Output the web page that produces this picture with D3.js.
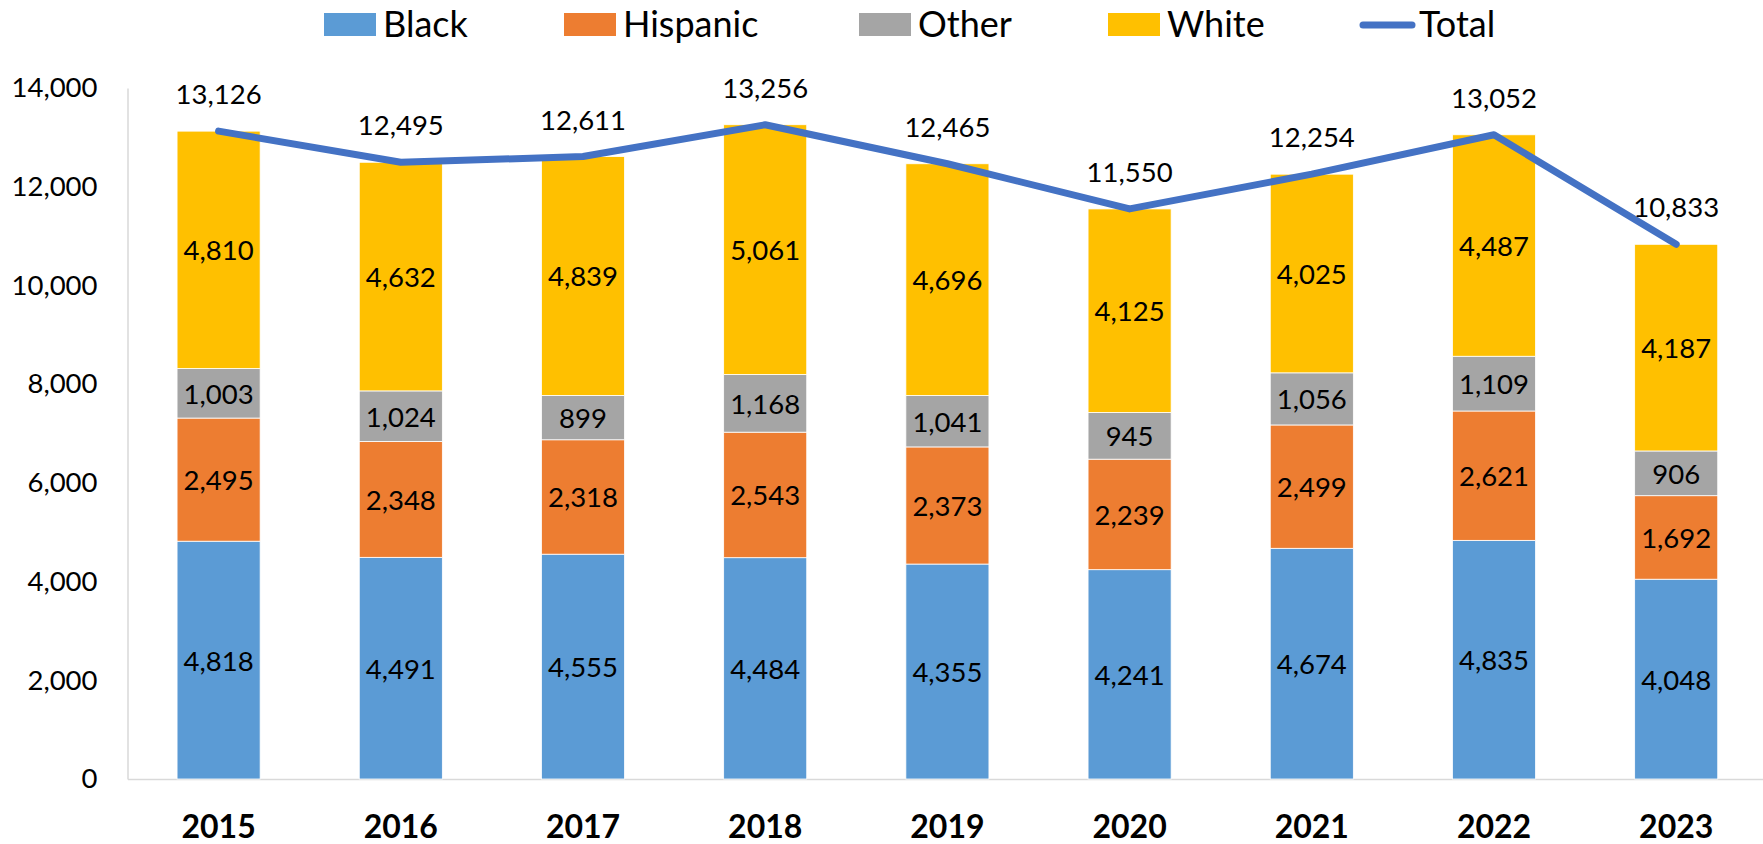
<!DOCTYPE html>
<html>
<head>
<meta charset="utf-8">
<script src="https://cdn.jsdelivr.net/npm/d3@7"></script>
<style>
  html, body { margin: 0; padding: 0; background: #fff; }
  svg { display: block; font-family: Lato, "Open Sans", sans-serif; }
</style>
</head>
<body>
<svg id="chart" width="1763" height="844"></svg>
<script>
// ---- data ----
const years = ["2015", "2016", "2017", "2018", "2019", "2020", "2021", "2022", "2023"];
const seriesNames = ["Black", "Hispanic", "Other", "White"];
const black    = [4818, 4491, 4555, 4484, 4355, 4241, 4674, 4835, 4048];
const hispanic = [2495, 2348, 2318, 2543, 2373, 2239, 2499, 2621, 1692];
const other    = [1003, 1024, 899, 1168, 1041, 945, 1056, 1109, 906];
const white    = [4810, 4632, 4839, 5061, 4696, 4125, 4025, 4487, 4187];
const total    = [13126, 12495, 12611, 13256, 12465, 11550, 12254, 13052, 10833];
const yTicks   = [0, 2000, 4000, 6000, 8000, 10000, 12000, 14000];

// ---- styles / layout ----
const colors = { Black: "#5B9BD5", Hispanic: "#ED7D31", Other: "#A5A5A5", White: "#FFC000", Total: "#4472C4" };
const plotLeft = 127.5, plotRight = 1767.3, plotTop = 88, plotBottom = 779;

const rows = years.map((yr, i) => ({ year: yr, Black: black[i], Hispanic: hispanic[i], Other: other[i], White: white[i], Total: total[i] }));

const svg = d3.select("#chart");
const fmt = d3.format(",");

const x = d3.scaleBand().domain(years).range([plotLeft, plotRight]).paddingInner(0.544).paddingOuter(0.272);
const y = d3.scaleLinear().domain([0, 14000]).range([plotBottom, plotTop]);

// axes
const yAxis = svg.append("g").attr("transform", `translate(${plotLeft},0)`)
  .call(d3.axisLeft(y).tickValues(yTicks).tickFormat(fmt).tickSize(0).tickPadding(30));
yAxis.select(".domain").attr("stroke", "#d9d9d9").attr("stroke-width", 1.5);
yAxis.selectAll("text").attr("font-family", "Lato, sans-serif").attr("font-size", 27.5).attr("fill", "#000");

const xAxis = svg.append("g").attr("transform", `translate(0,${plotBottom})`)
  .call(d3.axisBottom(x).tickSize(0).tickSizeOuter(0));
xAxis.select(".domain").attr("stroke", "#d9d9d9").attr("stroke-width", 1.5);
xAxis.selectAll("text").attr("font-family", "Lato, sans-serif").attr("font-size", 32)
  .attr("font-weight", "bold").attr("fill", "#000").attr("dy", 0).attr("y", 59);

// stacked bars
const stack = d3.stack().keys(seriesNames)(rows);
const layers = svg.append("g").selectAll("g").data(stack).join("g")
  .attr("fill", d => colors[d.key]);
layers.selectAll("rect").data(d => d).join("rect")
  .attr("x", d => x(d.data.year))
  .attr("width", x.bandwidth())
  .attr("y", d => y(d[1]))
  .attr("height", d => y(d[0]) - y(d[1]))
  .attr("stroke", "#fff").attr("stroke-width", 0.8);

// segment labels
const segLabels = svg.append("g");
stack.forEach(layer => {
  segLabels.append("g").selectAll("text").data(layer).join("text")
    .attr("x", d => x(d.data.year) + x.bandwidth() / 2)
    .attr("y", d => (y(d[0]) + y(d[1])) / 2)
    .attr("text-anchor", "middle")
    .attr("dominant-baseline", "central")
    .attr("font-size", 27.5)
    .attr("fill", "#000")
    .text(d => fmt(d[1] - d[0]));
});

// total line
const line = d3.line().x(d => x(d.year) + x.bandwidth() / 2).y(d => y(d.Total));
svg.append("path").datum(rows).attr("d", line)
  .attr("fill", "none").attr("stroke", colors.Total).attr("stroke-width", 7)
  .attr("stroke-linecap", "round").attr("stroke-linejoin", "round");

svg.append("g").selectAll("text").data(rows).join("text")
  .attr("x", d => x(d.year) + x.bandwidth() / 2)
  .attr("y", d => y(d.Total) - 27)
  .attr("text-anchor", "middle")
  .attr("font-size", 27.5)
  .attr("fill", "#000")
  .text(d => fmt(d.Total));

// legend
const legendItems = seriesNames.concat(["Total"]);
const legendX = [324, 564, 859, 1108, 1360];
const lg = svg.append("g").selectAll("g").data(legendItems).join("g")
  .attr("transform", (d, i) => `translate(${legendX[i]},0)`);
lg.each(function (d) {
  const g = d3.select(this);
  if (d === "Total") {
    g.append("line").attr("x1", 3).attr("x2", 52).attr("y1", 25).attr("y2", 25)
      .attr("stroke", colors.Total).attr("stroke-width", 7).attr("stroke-linecap", "round");
  } else {
    g.append("rect").attr("x", 0).attr("y", 13).attr("width", 52).attr("height", 23).attr("fill", colors[d]);
  }
  g.append("text").attr("x", 59).attr("y", 37).attr("font-size", 36).attr("fill", "#000").text(d);
});
</script>
</body>
</html>
